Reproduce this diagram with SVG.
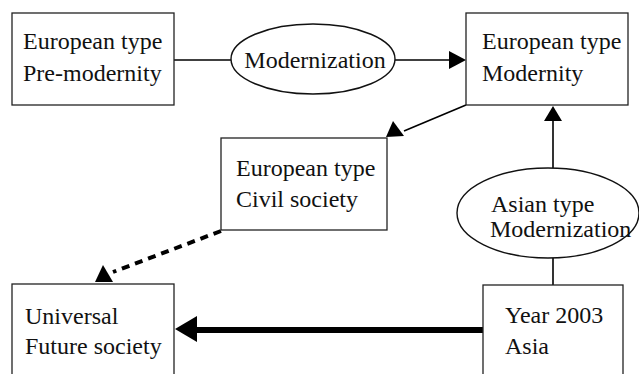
<svg xmlns="http://www.w3.org/2000/svg" width="639" height="374" viewBox="0 0 639 374">
<style>
.box{fill:#fff;stroke:#222;stroke-width:1.3}
.ell{fill:#fff;stroke:#111;stroke-width:1.4}
.t{font-family:"Liberation Serif","Times New Roman",serif;font-size:24px;fill:#111}
.ln{stroke:#000;stroke-width:1.6;fill:none}
.ah{fill:#000}
</style>
<rect width="639" height="374" fill="#fff"/>
<g id="connectors">
<line class="ln" x1="174" y1="60" x2="231" y2="60"/>
<line class="ln" x1="395" y1="60" x2="450" y2="60"/>
<polygon class="ah" points="449,51 466,60 449,69"/>
<line class="ln" x1="466" y1="105" x2="404" y2="131"/>
<polygon class="ah" points="386,137 404,136 393,121"/>
<line x1="221" y1="231" x2="113" y2="272" stroke="#000" stroke-width="4" stroke-dasharray="8,6"/>
<polygon class="ah" points="95,282 113,282 103,265"/>
<line x1="483" y1="330" x2="195" y2="330" stroke="#000" stroke-width="6"/>
<polygon class="ah" points="175,329 197,316 197,342"/>
<line class="ln" x1="553" y1="285" x2="553" y2="258"/>
<line class="ln" x1="553" y1="168" x2="553" y2="120"/>
<polygon class="ah" points="544,121 562,121 553,106"/>
</g>
<g id="pre-modernity">
<rect class="box" x="12" y="13" width="162" height="92"/>
<text class="t" x="23" y="49">European type</text>
<text class="t" x="23" y="81">Pre-modernity</text>
</g>
<g id="modernization">
<ellipse class="ell" cx="313" cy="59" rx="82" ry="35"/>
<text class="t" x="315" y="68" text-anchor="middle">Modernization</text>
</g>
<g id="modernity">
<rect class="box" x="466" y="13" width="162" height="92"/>
<text class="t" x="482" y="49">European type</text>
<text class="t" x="482" y="81">Modernity</text>
</g>
<g id="civil-society">
<rect class="box" x="221" y="138" width="166" height="92"/>
<text class="t" x="236" y="176">European type</text>
<text class="t" x="236" y="207">Civil society</text>
</g>
<g id="future-society">
<rect class="box" x="12" y="284" width="162" height="100"/>
<text class="t" x="25" y="324">Universal</text>
<text class="t" x="25" y="354">Future society</text>
</g>
<g id="asia-2003">
<rect class="box" x="483" y="285" width="140" height="100"/>
<text class="t" x="505" y="323">Year 2003</text>
<text class="t" x="505" y="354">Asia</text>
</g>
<g id="asian-modernization">
<ellipse class="ell" cx="548" cy="213" rx="91" ry="45"/>
<text class="t" x="491" y="212">Asian type</text>
<text class="t" x="490" y="237">Modernization</text>
</g>
</svg>
